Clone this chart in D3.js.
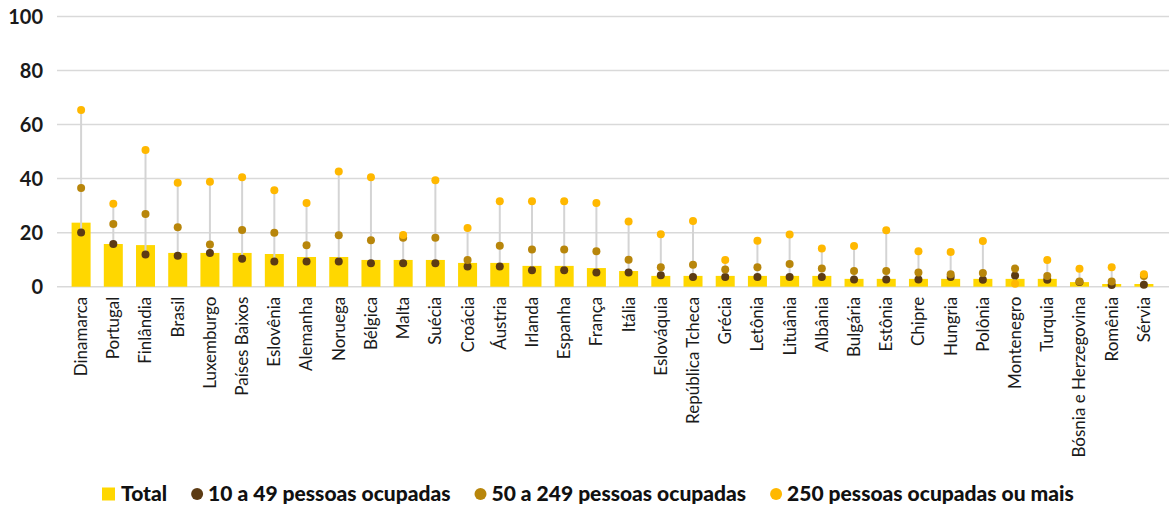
<!DOCTYPE html>
<html>
<head>
<meta charset="utf-8">
<script src="https://cdn.jsdelivr.net/npm/d3@7"></script>
<style>
  html, body { margin: 0; padding: 0; background: #fff; }
  svg { display: block; font-family: Lato, "Noto Sans", sans-serif; }
</style>
</head>
<body>
<svg id="chart" width="1169" height="508"></svg>
<script>
const categories = ["Dinamarca","Portugal","Finlândia","Brasil","Luxemburgo","Países Baixos","Eslovênia","Alemanha","Noruega","Bélgica","Malta","Suécia","Croácia","Áustria","Irlanda","Espanha","França","Itália","Eslováquia","República Tcheca","Grécia","Letônia","Lituânia","Albânia","Bulgária","Estônia","Chipre","Hungria","Polônia","Montenegro","Turquia","Bósnia e Herzegovina","Romênia","Sérvia"];
const total   = [23.7,15.8,15.4,12.5,12.5,12.5,12.1,11.0,11.0,9.9,9.9,9.9,8.8,8.8,7.7,7.7,6.9,5.8,4.0,4.0,4.0,4.0,4.0,4.0,2.9,2.9,2.9,2.9,2.9,2.9,2.9,1.7,1.0,1.0];
const small   = [20.1,15.8,11.9,11.5,12.5,10.3,9.3,9.3,9.3,8.7,8.7,8.7,7.5,7.5,6.1,6.1,5.3,5.3,4.2,3.6,3.6,3.6,3.6,3.6,2.7,2.7,2.7,3.6,2.6,4.1,2.6,1.7,0.6,0.7];
const medium  = [36.5,23.2,26.9,22.0,15.6,21.0,20.0,15.3,19.0,17.2,18.1,18.1,9.9,15.2,13.8,13.8,13.1,10.0,7.2,8.1,6.4,7.2,8.4,6.7,5.8,5.8,5.3,4.6,5.1,6.7,4.0,1.9,1.9,4.0];
const large   = [65.4,30.7,50.6,38.5,38.8,40.5,35.7,31.0,42.6,40.5,19.1,39.4,21.7,31.6,31.6,31.6,31.0,24.1,19.4,24.3,9.9,17.0,19.3,14.1,15.1,20.9,13.1,12.8,16.9,1.1,9.9,6.6,7.2,4.6];
const yTicks  = [0,20,40,60,80,100];
const seriesNames = ["Total","10 a 49 pessoas ocupadas","50 a 249 pessoas ocupadas","250 pessoas ocupadas ou mais"];
const colors = { total: "#FFD700", small: "#5C3B14", medium: "#B8860B", large: "#FFB800" };

const svg = d3.select("#chart");
const x = d3.scaleBand().domain(categories).range([65, 1160]).paddingInner(0.41).paddingOuter(0.205);
const y = d3.scaleLinear().domain([0, 100]).range([286.7, 16.5]);

// gridlines
const grid = svg.append("g");
grid.selectAll("line").data(yTicks).join("line")
  .attr("x1", 57).attr("x2", 1169)
  .attr("y1", d => y(d)).attr("y2", d => y(d))
  .attr("stroke", "#d9d9d9").attr("stroke-width", 1.5);

// y axis labels
const yAxis = svg.append("g").attr("transform", "translate(43,0)")
  .call(d3.axisLeft(y).tickValues(yTicks).tickSize(0).tickPadding(0));
yAxis.select(".domain").remove();
yAxis.selectAll("text").attr("font-size", 20).attr("font-weight", "bold")
  .attr("fill", "#1a1a1a").attr("font-family", "Lato, sans-serif").attr("dy", "0.35em");

// bars
const cx = d => x(d) + x.bandwidth() / 2;
svg.append("g").selectAll("rect").data(categories).join("rect")
  .attr("x", d => x(d)).attr("width", x.bandwidth())
  .attr("y", (d, i) => y(total[i])).attr("height", (d, i) => y(0) - y(total[i]))
  .attr("fill", colors.total);

// connectors
svg.append("g").selectAll("line").data(categories).join("line")
  .attr("x1", cx).attr("x2", cx)
  .attr("y1", (d, i) => y(Math.max(small[i], medium[i], large[i])))
  .attr("y2", (d, i) => y(Math.min(small[i], medium[i], large[i])))
  .attr("stroke", "#d4d4d4").attr("stroke-width", 2);

// dots
[[small, colors.small], [medium, colors.medium], [large, colors.large]].forEach(([vals, col]) => {
  svg.append("g").selectAll("circle").data(categories).join("circle")
    .attr("cx", cx).attr("cy", (d, i) => y(vals[i])).attr("r", 4).attr("fill", col);
});

// x axis labels
const xAxis = svg.append("g").attr("transform", `translate(0,${y(0)})`)
  .call(d3.axisBottom(x).tickSize(0).tickPadding(0));
xAxis.select(".domain").remove();
xAxis.selectAll("text")
  .attr("font-size", 17).attr("font-family", "Lato, sans-serif").attr("fill", "#1a1a1a")
  .attr("transform", "rotate(-90)").attr("text-anchor", "end")
  .attr("x", -10).attr("y", 0).attr("dy", "0.35em");

// legend
const legend = svg.append("g").attr("transform", "translate(102,494)");
const legendColors = [colors.total, colors.small, colors.medium, colors.large];
let lx = 0;
seriesNames.forEach((name, i) => {
  const g = legend.append("g").attr("transform", `translate(${lx},0)`);
  if (i === 0) {
    g.append("rect").attr("x", 0).attr("y", -6.5).attr("width", 13).attr("height", 13).attr("fill", legendColors[i]);
  } else {
    g.append("circle").attr("cx", 6).attr("cy", 0).attr("r", 6).attr("fill", legendColors[i]);
  }
  const off = i === 0 ? 19 : 17;
  const t = g.append("text").attr("x", off).attr("y", 0).attr("dy", "0.35em")
    .attr("font-size", 21).attr("font-weight", 900).attr("fill", "#111")
    .attr("font-family", "Lato, sans-serif").text(name);
  const w = t.node().getComputedTextLength();
  lx += off + w + 24;
});
</script>
</body>
</html>
